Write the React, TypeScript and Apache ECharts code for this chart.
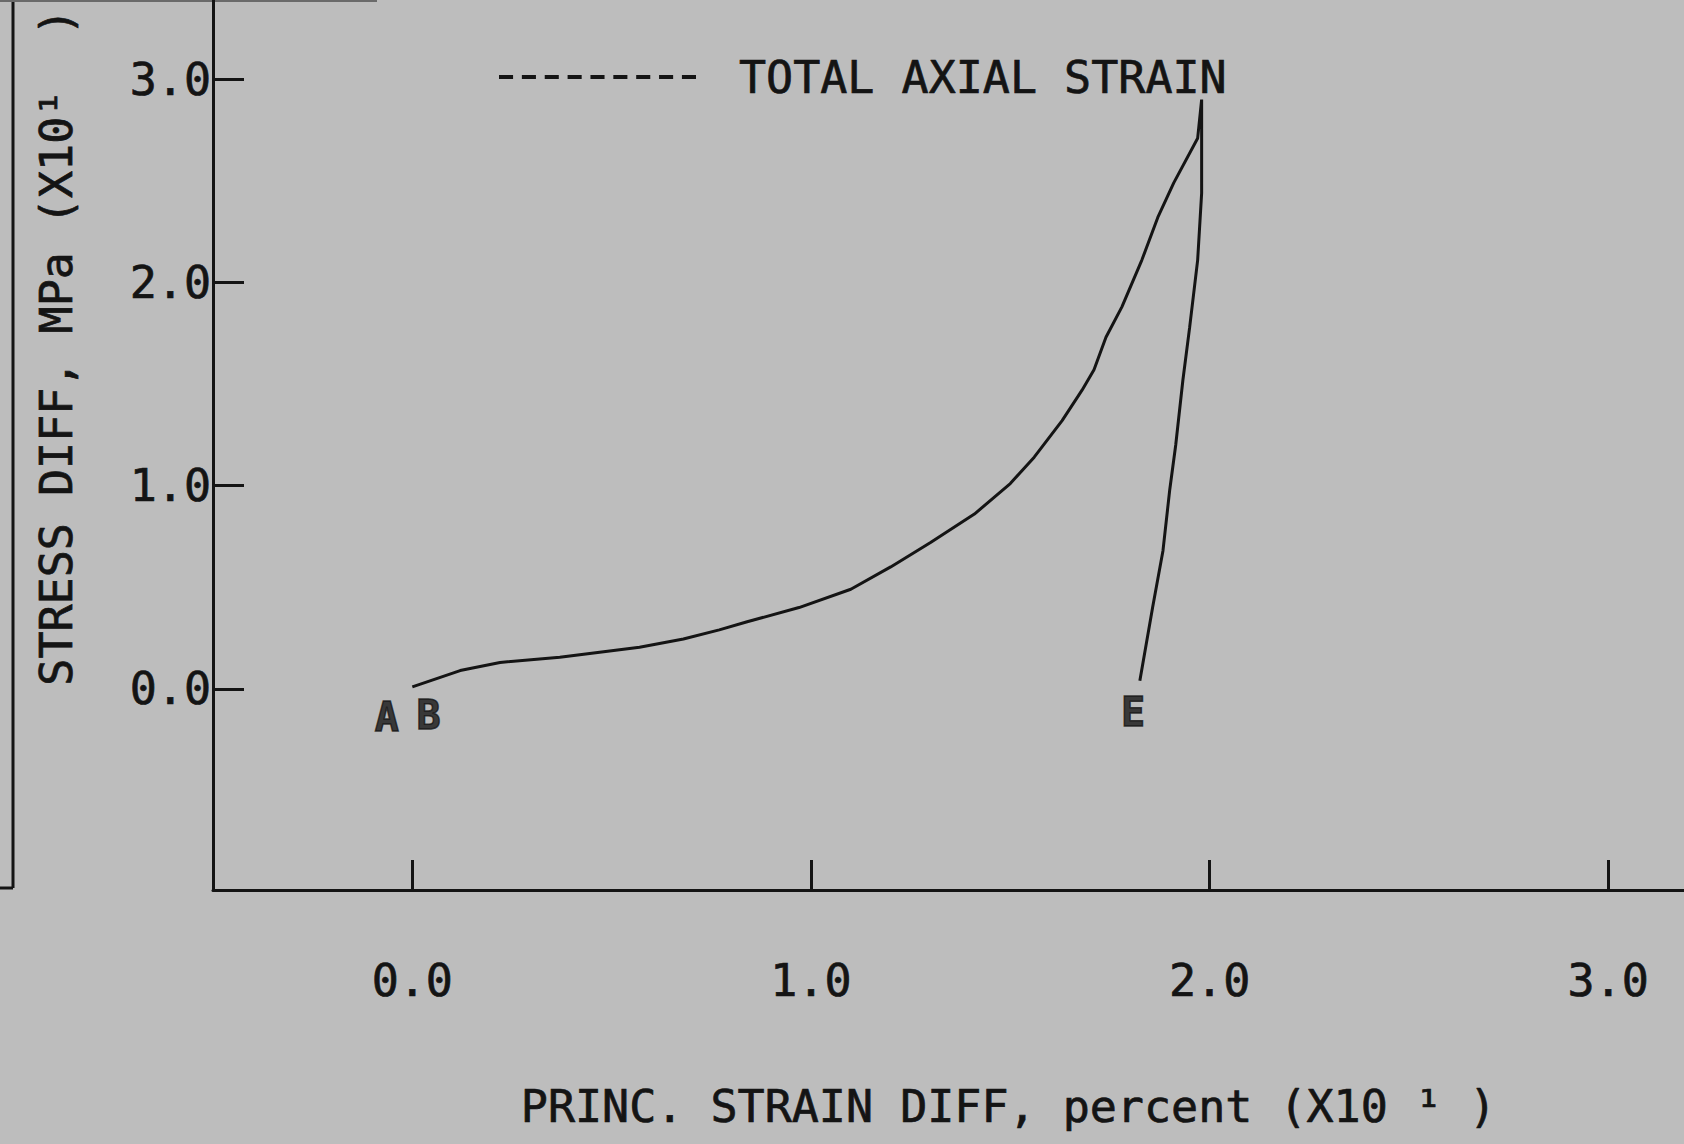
import React, { useEffect, useRef } from 'react';
import * as echarts from 'echarts';

// ---- data ----
const xTickValues = [0, 1, 2, 3];
const yTickValues = [0, 1, 2, 3];

// loading branch (A/B -> peak)
const strainLoading = [0.0, 0.12, 0.22, 0.37, 0.47, 0.57, 0.68, 0.77, 0.84, 0.97, 1.1, 1.2, 1.3, 1.41, 1.5, 1.56, 1.63, 1.68, 1.71, 1.74, 1.78, 1.83, 1.87, 1.91, 1.97, 1.98];
const stressLoading = [0.01, 0.09, 0.13, 0.155, 0.18, 0.205, 0.245, 0.29, 0.33, 0.4, 0.49, 0.6, 0.72, 0.86, 1.01, 1.14, 1.32, 1.47, 1.57, 1.73, 1.88, 2.11, 2.32, 2.49, 2.71, 2.9];
// unloading branch (peak -> E)
const strainUnloading = [1.98, 1.98, 1.97, 1.95, 1.933, 1.915, 1.9, 1.883, 1.857, 1.825];
const stressUnloading = [2.76, 2.44, 2.11, 1.78, 1.52, 1.2, 0.98, 0.68, 0.4, 0.04];

// point annotations
const pointLabels = ['A', 'B', 'E'];
const pointStrain = [-0.064, 0.041, 1.808];
const pointStress = [-0.139, -0.129, -0.115];

const seriesName = 'TOTAL AXIAL STRAIN';
const xAxisName = 'PRINC. STRAIN DIFF, percent (X10 \u00B9 )';
const yAxisName = 'STRESS DIFF, MPa (X10\u00B9  )';

const INK = '#141414';
const PAPER = '#bdbdbd';
const FONT = '"DejaVu Sans Mono", monospace';

function dashIcon(): string {
  const n = 9;
  const d = 16;
  const g = 10;
  let p = 'path://';
  for (let i = 0; i < n; i++) {
    const x = i * (d + g);
    p += `M${x},0L${x + d},0L${x + d},4.5L${x},4.5Z`;
  }
  return p;
}

export default function App() {
  const ref = useRef<HTMLDivElement>(null);

  useEffect(() => {
    if (!ref.current) return;
    const chart = echarts.init(ref.current, undefined, { renderer: 'svg' });

    const curve: number[][] = [];
    strainLoading.forEach((x, i) => curve.push([x, stressLoading[i]]));
    strainUnloading.forEach((x, i) => curve.push([x, stressUnloading[i]]));

    const points = pointLabels.map((name, i) => ({ name, value: [pointStrain[i], pointStress[i]] }));

    const fmt = (v: number) => v.toFixed(1);
    const txt = { fontFamily: FONT, fontSize: 45, color: INK, textBorderColor: INK, textBorderWidth: 0.7 };

    chart.setOption({
      animation: false,
      backgroundColor: PAPER,
      grid: { left: 213, right: 0, top: 0, bottom: 254, containLabel: false },
      legend: {
        data: [seriesName],
        left: 499,
        top: 52,
        padding: 0,
        itemWidth: 197,
        itemHeight: 4,
        icon: dashIcon(),
        selectedMode: false,
        itemStyle: { color: INK, borderWidth: 0 },
        textStyle: { ...txt, padding: [0, 0, 0, 38], lineHeight: 50 },
      },
      xAxis: {
        type: 'value',
        min: -0.5,
        max: 3.19,
        axisLine: { show: true, onZero: false, lineStyle: { color: INK, width: 3 } },
        axisTick: { show: true, inside: true, length: 30, customValues: xTickValues, lineStyle: { color: INK, width: 3 } },
        axisLabel: { customValues: xTickValues, formatter: fmt, margin: 68, ...txt },
        splitLine: { show: false },
        name: xAxisName,
        nameLocation: 'middle',
        nameGap: 194,
        nameTextStyle: { ...txt, lineHeight: 45, padding: [0, 0, 0, 120] },
      },
      yAxis: {
        type: 'value',
        min: -0.99,
        max: 3.39,
        axisLine: { show: true, onZero: false, lineStyle: { color: INK, width: 3 } },
        axisTick: { show: true, inside: true, length: 31, customValues: yTickValues, lineStyle: { color: INK, width: 3 } },
        axisLabel: { customValues: yTickValues, formatter: fmt, margin: 2, ...txt },
        splitLine: { show: false },
        name: yAxisName,
        nameLocation: 'middle',
        nameRotate: 90,
        nameGap: 134,
        nameTextStyle: { ...txt, lineHeight: 45, padding: [0, 0, 0, 196] },
      },
      series: [
        {
          name: seriesName,
          type: 'line',
          data: curve,
          symbol: 'none',
          color: INK,
          lineStyle: { color: INK, width: 3 },
          clip: false,
        },
        {
          name: 'labels',
          type: 'scatter',
          data: points,
          symbolSize: 1,
          itemStyle: { color: 'rgba(0,0,0,0)' },
          label: {
            show: true,
            position: 'inside',
            formatter: '{b}',
            fontFamily: FONT,
            fontWeight: 'bold',
            fontSize: 40,
            color: INK,
            textBorderColor: INK,
            textBorderWidth: 1.5,
          },
          silent: true,
        },
      ],
      graphic: [
        { type: 'line', shape: { x1: 13, y1: 0, x2: 13, y2: 888 }, style: { stroke: INK, lineWidth: 3 } },
        { type: 'line', shape: { x1: 0, y1: 888, x2: 13, y2: 888 }, style: { stroke: INK, lineWidth: 3 } },
        { type: 'line', shape: { x1: 0, y1: 1, x2: 377, y2: 1 }, style: { stroke: '#6a6a6a', lineWidth: 2 } },
      ],
    });

    return () => chart.dispose();
  }, []);

  return <div ref={ref} style={{ position: 'absolute', left: 0, top: 0, width: 1684, height: 1144 }} />;
}
